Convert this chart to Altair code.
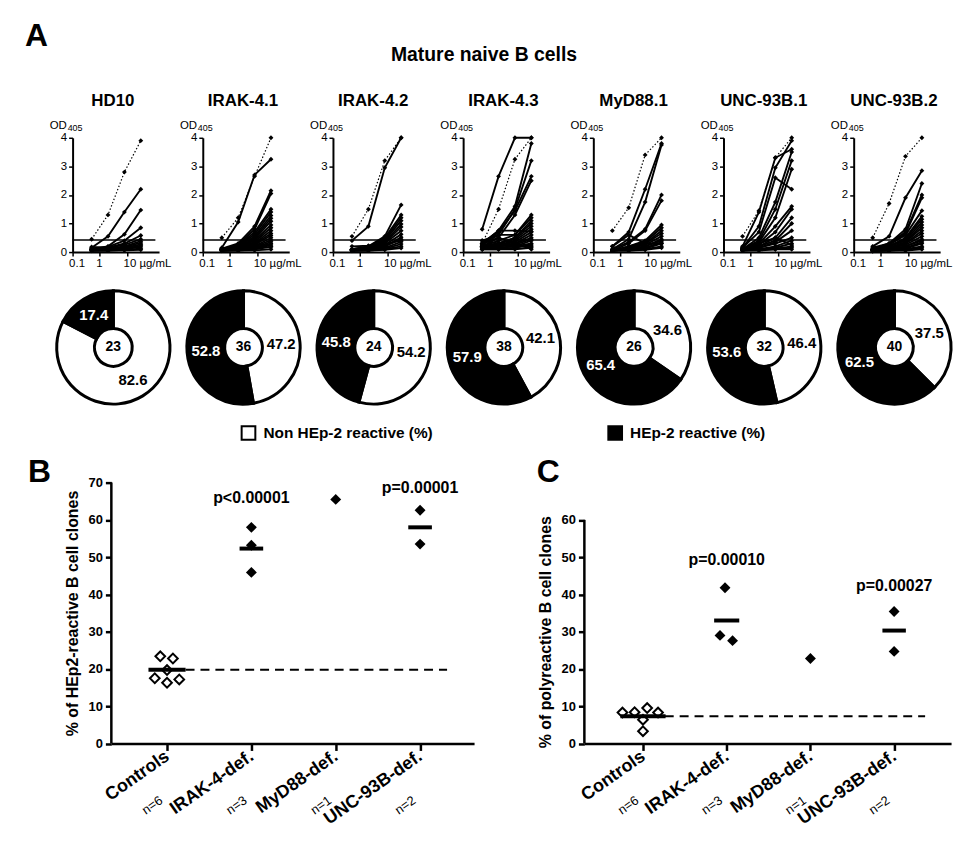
import altair as alt
import pandas as pd

FONT = "Liberation Sans, Arial, Helvetica, sans-serif"

# ---------------- Panel A data ----------------
CONC = [0.5, 2, 8, 32]  # ug/mL
PANELS = ["HD10", "IRAK-4.1", "IRAK-4.2", "IRAK-4.3", "MyD88.1", "UNC-93B.1", "UNC-93B.2"]
CONTROL_CURVES = [
    [0.45, 1.30, 2.80, 3.90],
    [0.50, 1.20, 2.65, 4.00],
    [0.55, 1.50, 3.20, 4.00],
    [0.30, 1.50, 3.25, 4.00],
    [0.75, 1.55, 3.40, 4.00],
    [0.55, 1.45, 3.30, 4.00],
    [0.50, 1.70, 3.35, 4.00],
]
HD10_CURVES = [
    [0.15, 0.55, 1.40, 2.20], [0.12, 0.20, 0.62, 1.47], [0.10, 0.18, 0.40, 0.85],
    [0.10, 0.15, 0.30, 0.58], [0.18, 0.15, 0.25, 0.45], [0.10, 0.12, 0.20, 0.38],
    [0.08, 0.10, 0.18, 0.32], [0.06, 0.08, 0.15, 0.27], [0.10, 0.10, 0.12, 0.22],
    [0.05, 0.06, 0.10, 0.18], [0.05, 0.05, 0.08, 0.12], [0.04, 0.05, 0.06, 0.08],
]
IRAK41_CURVES = [
    [0.15, 1.05, 2.70, 3.25], [0.12, 0.30, 0.90, 2.15], [0.10, 0.25, 0.80, 2.05],
    [0.10, 0.22, 0.70, 1.50], [0.10, 0.20, 0.62, 1.40], [0.10, 0.18, 0.55, 1.28],
    [0.10, 0.15, 0.50, 1.18], [0.10, 0.15, 0.45, 1.08], [0.08, 0.15, 0.40, 0.95],
    [0.08, 0.12, 0.35, 0.85], [0.08, 0.12, 0.30, 0.75], [0.08, 0.10, 0.28, 0.65],
    [0.08, 0.10, 0.25, 0.58], [0.06, 0.10, 0.20, 0.50], [0.06, 0.08, 0.18, 0.42],
    [0.10, 0.10, 0.15, 0.36], [0.05, 0.08, 0.12, 0.30], [0.05, 0.08, 0.10, 0.25],
    [0.05, 0.05, 0.10, 0.18], [0.12, 0.20, 0.30, 0.20], [0.04, 0.05, 0.06, 0.10],
]
IRAK42_CURVES = [
    [0.40, 0.90, 2.95, 4.00], [0.10, 0.20, 0.55, 1.65], [0.10, 0.18, 0.50, 1.30],
    [0.10, 0.15, 0.45, 1.20], [0.10, 0.15, 0.40, 1.10], [0.08, 0.12, 0.35, 0.98],
    [0.08, 0.12, 0.32, 0.88], [0.08, 0.10, 0.30, 0.75], [0.08, 0.10, 0.25, 0.62],
    [0.06, 0.10, 0.20, 0.52], [0.06, 0.10, 0.20, 0.45], [0.05, 0.08, 0.15, 0.36],
    [0.05, 0.06, 0.12, 0.28], [0.05, 0.05, 0.10, 0.20], [0.04, 0.05, 0.08, 0.14],
    [0.20, 0.22, 0.28, 0.40],
]
IRAK43_CURVES = [
    [0.80, 2.65, 4.00, 4.00], [0.30, 0.75, 1.60, 3.80], [0.25, 0.60, 1.50, 3.20],
    [0.25, 0.70, 1.45, 2.65], [0.20, 0.50, 1.30, 2.50], [0.30, 0.75, 0.75, 0.72],
    [0.40, 0.60, 0.60, 1.30], [0.20, 0.40, 0.60, 1.20], [0.20, 0.30, 0.50, 1.10],
    [0.20, 0.30, 0.50, 1.00], [0.20, 0.30, 0.45, 0.90], [0.20, 0.25, 0.40, 0.80],
    [0.20, 0.25, 0.35, 0.70], [0.15, 0.20, 0.30, 0.60], [0.15, 0.20, 0.30, 0.50],
    [0.15, 0.20, 0.25, 0.45], [0.10, 0.15, 0.20, 0.40], [0.10, 0.15, 0.20, 0.30],
    [0.10, 0.10, 0.15, 0.25], [0.40, 0.30, 0.20, 0.20], [0.30, 0.50, 0.30, 0.10],
    [0.10, 0.10, 0.10, 0.15],
]
MYD88_CURVES = [
    [0.20, 0.70, 2.20, 3.80], [0.10, 0.45, 1.75, 3.75], [0.10, 0.35, 0.80, 2.00],
    [0.05, 0.30, 0.75, 1.80], [0.05, 0.20, 0.40, 0.95], [0.05, 0.20, 0.35, 0.85],
    [0.05, 0.15, 0.30, 0.75], [0.05, 0.15, 0.30, 0.65], [0.05, 0.12, 0.25, 0.55],
    [0.05, 0.10, 0.20, 0.45], [0.05, 0.10, 0.20, 0.40], [0.05, 0.10, 0.15, 0.35],
    [0.05, 0.08, 0.12, 0.30], [0.05, 0.05, 0.10, 0.20], [0.05, 0.05, 0.08, 0.15],
    [0.20, 0.60, 0.30, 0.30],
]
UNC1_CURVES = [
    [0.20, 1.40, 3.30, 3.60], [0.15, 0.90, 2.95, 3.90], [0.15, 0.70, 2.60, 2.20],
    [0.10, 0.50, 1.75, 3.50], [0.10, 0.40, 1.50, 3.20], [0.10, 0.35, 1.20, 2.90],
    [0.10, 0.30, 0.90, 1.60], [0.10, 0.25, 0.70, 1.50], [0.10, 0.20, 0.50, 1.20],
    [0.10, 0.20, 0.40, 1.00], [0.10, 0.15, 0.35, 0.75], [0.10, 0.15, 0.30, 0.50],
    [0.08, 0.10, 0.20, 0.40], [0.08, 0.10, 0.15, 0.30], [0.05, 0.10, 0.12, 0.20],
    [0.05, 0.08, 0.10, 0.15], [0.05, 0.05, 0.10, 0.10], [0.10, 0.30, 0.50, 0.25],
]
UNC2_CURVES = [
    [0.20, 0.55, 1.90, 2.85], [0.15, 0.30, 0.80, 2.40], [0.10, 0.30, 0.70, 2.00],
    [0.10, 0.25, 0.65, 1.90], [0.10, 0.25, 0.60, 1.45], [0.10, 0.20, 0.50, 1.25],
    [0.10, 0.20, 0.45, 1.15], [0.10, 0.20, 0.40, 1.05], [0.10, 0.15, 0.35, 0.95],
    [0.10, 0.15, 0.35, 0.85], [0.08, 0.15, 0.30, 0.75], [0.08, 0.12, 0.30, 0.65],
    [0.08, 0.12, 0.25, 0.55], [0.05, 0.10, 0.20, 0.45], [0.05, 0.10, 0.20, 0.40],
    [0.05, 0.10, 0.15, 0.35], [0.05, 0.08, 0.12, 0.30], [0.05, 0.05, 0.10, 0.20],
    [0.05, 0.05, 0.08, 0.15], [0.03, 0.05, 0.05, 0.10],
]
ALL_CURVES = [HD10_CURVES, IRAK41_CURVES, IRAK42_CURVES, IRAK43_CURVES,
              MYD88_CURVES, UNC1_CURVES, UNC2_CURVES]
THRESHOLD = 0.42
THRESHOLD_SPAN = [0.1, 110]

N_CLONES = [23, 36, 24, 38, 26, 32, 40]
NON_REACTIVE = [82.6, 47.2, 54.2, 42.1, 34.6, 46.4, 37.5]
REACTIVE = [17.4, 52.8, 45.8, 57.9, 65.4, 53.6, 62.5]
CAT_NON = "Non HEp-2 reactive (%)"
CAT_REA = "HEp-2 reactive (%)"

# ---------------- Panels B / C data ----------------
GROUPS = ["Controls", "IRAK-4-def.", "MyD88-def.", "UNC-93B-def."]
GROUP_N = ["n=6", "n=3", "n=1", "n=2"]

B_CONTROLS = [23.4, 22.8, 19.7, 17.5, 16.3, 17.2]
B_CONTROLS_JIT = [-0.08, 0.07, 0.0, -0.145, 0.0, 0.145]
B_PATIENT_GROUP = [1, 1, 1, 2, 3, 3]
B_PATIENTS = [58.0, 53.2, 45.9, 65.5, 62.6, 53.5]
B_MEDIAN_GROUP = [0, 1, 3]
B_MEDIANS = [19.8, 52.3, 58.0]
B_MEDIAN_HALF = [0.22, 0.14, 0.14]
B_DASH = [0.22, 3.32]
B_P_GROUP = [1, 3]
B_P_TEXT = ["p<0.00001", "p=0.00001"]
B_P_Y = [65.9, 68.5]

C_CONTROLS = [8.3, 8.4, 9.5, 8.3, 6.4, 3.3]
C_CONTROLS_JIT = [-0.245, -0.10, 0.05, 0.18, 0.0, 0.0]
C_PATIENT_GROUP = [1, 1, 1, 2, 3, 3]
C_PATIENTS = [41.8, 29.0, 27.6, 22.8, 35.4, 24.7]
C_PATIENTS_JIT = [-0.02, -0.08, 0.07, 0.0, 0.0, 0.0]
C_MEDIAN_GROUP = [0, 1, 3]
C_MEDIANS = [7.3, 33.0, 30.3]
C_MEDIAN_HALF = [0.27, 0.15, 0.14]
C_DASH = [0.26, 3.37]
C_P_GROUP = [1, 3]
C_P_TEXT = ["p=0.00010", "p=0.00027"]
C_P_Y = [49.2, 42.3]

# ---------------- layout sizes ----------------
PW, PH, PSP = 87, 115, 44          # small panels
HEADER_H = 70.5
DONUT_ROW_H = 186.5
DONUT_CX, DONUT_CY = 41, 78
BC_H = 262.5


def line_panel(i):
    rows = []
    for k, curve in enumerate(ALL_CURVES[i]):
        for c, v in zip(CONC, curve):
            rows.append({"clone": k, "conc": c, "od": v})
    df = pd.DataFrame(rows)
    ctrl = pd.DataFrame({"conc": CONC, "od": CONTROL_CURVES[i]})
    thr = pd.DataFrame({"conc": [THRESHOLD_SPAN[0]], "conc2": [THRESHOLD_SPAN[1]], "od": [THRESHOLD]})
    ttl = pd.DataFrame({"name": [PANELS[i]]})

    x = alt.X("conc:Q", scale=alt.Scale(type="log", domain=[0.1, 150], nice=False),
              axis=alt.Axis(values=[0.1, 1, 10], title=None,
                            labelExpr="datum.value >= 10 ? '10 \u00b5g/mL' : (datum.value < 0.5 ? '0.1' : '1')",
                            labelAlign="left", labelOffset=-4, labelFontSize=11.5, labelPadding=2,
                            labelOverlap=False, labelBound=False,
                            tickSize=4, tickWidth=1.5, domainWidth=2))
    y = alt.Y("od:Q", scale=alt.Scale(domain=[0, 4], nice=False),
              axis=alt.Axis(values=[0, 1, 2, 3, 4], title=None,
                            labelFontSize=11.5, labelPadding=2, labelOverlap=False,
                            tickSize=4, tickWidth=1.5, domainWidth=2))
    pt = alt.OverlayMarkDef(shape="diamond", filled=True, size=24, color="black")
    curves = alt.Chart(df).mark_line(color="black", strokeWidth=1.9, point=pt).encode(
        x=x, y=y, detail="clone:N")
    control = alt.Chart(ctrl).mark_line(color="black", strokeWidth=1.2, strokeDash=[1.5, 2],
                                        point=pt).encode(x=x, y=y)
    thr_rule = alt.Chart(thr).mark_rule(color="black", strokeWidth=1.6).encode(
        x=x, x2="conc2:Q", y=y)
    title = alt.Chart(ttl).mark_text(fontSize=17, fontWeight="bold", font=FONT, color="black",
                                     baseline="middle").encode(
        text="name:N", x=alt.value(PW / 2 - 3), y=alt.value(-37))
    od = alt.Chart(pd.DataFrame({"t": ["OD"]})).mark_text(
        fontSize=11.5, font=FONT, color="black", align="left", baseline="middle").encode(
        text="t:N", x=alt.value(-23), y=alt.value(-12))
    sub = alt.Chart(pd.DataFrame({"t": ["405"]})).mark_text(
        fontSize=9, font=FONT, color="black", align="left", baseline="middle").encode(
        text="t:N", x=alt.value(-5), y=alt.value(-10))
    return alt.layer(curves, thr_rule, control, title, od, sub).properties(width=PW, height=PH)


def donut(i):
    d = pd.DataFrame({"cat": [CAT_NON, CAT_REA], "pct": [NON_REACTIVE[i], REACTIVE[i]], "ord": [0, 1]})
    base = alt.Chart(d).encode(theta=alt.Theta("pct:Q", stack=True), order=alt.Order("ord:Q"),
                               x=alt.value(DONUT_CX), y=alt.value(DONUT_CY))
    arc = base.mark_arc(innerRadius=19, outerRadius=57, stroke="black", strokeWidth=3).encode(
        color=alt.Color("cat:N", scale=alt.Scale(domain=[CAT_NON, CAT_REA], range=["white", "black"]),
                        legend=alt.Legend(title=None, orient="none", legendX=169, legendY=406,
                                          direction="horizontal", symbolType="square", symbolSize=190,
                                          symbolStrokeColor="black", symbolStrokeWidth=2,
                                          labelFont=FONT, labelFontSize=15.5, labelFontWeight="bold",
                                          labelColor="black", labelLimit=0, labelOffset=7,
                                          columnPadding=172)))
    lab = base.mark_text(radius=38, fontSize=15, fontWeight="bold", font=FONT).encode(
        text=alt.Text("pct:Q", format=".1f"),
        color=alt.condition(alt.datum.ord == 1, alt.value("white"), alt.value("black")))
    center = alt.Chart(pd.DataFrame({"n": [N_CLONES[i]]})).mark_text(
        fontSize=14, fontWeight="bold", font=FONT, color="black").encode(
        text="n:Q", x=alt.value(DONUT_CX), y=alt.value(DONUT_CY))
    return alt.layer(arc, lab, center).properties(width=PW, height=DONUT_ROW_H)


def scatter_panel(controls, ctrl_jit, pat_group, patients, pat_jit, med_group, medians, med_half,
                  dash, p_group, p_text, p_y, title, width, ymax_axis):
    ctrl_df = pd.DataFrame({"pos": [0 + j for j in ctrl_jit], "val": controls})
    pat_df = pd.DataFrame({"pos": [g + j for g, j in zip(pat_group, pat_jit)], "val": patients})
    med_df = pd.DataFrame({"pos": [g - h for g, h in zip(med_group, med_half)],
                           "x2": [g + h for g, h in zip(med_group, med_half)], "val": medians})
    dash_df = pd.DataFrame({"pos": [dash[0]], "x2": [dash[1]], "val": [medians[0]]})
    p_df = pd.DataFrame({"pos": p_group, "val": p_y, "t": p_text})
    n_df = pd.DataFrame({"pos": list(range(len(GROUP_N))), "t": GROUP_N})
    yl_df = pd.DataFrame({"val": [0], "v1": [ymax_axis]})

    lo = -0.66 if width < 367 else -0.70
    hi = 3.64 if width < 367 else 3.68
    label_expr = "[" + ",".join("'" + g + "'" for g in GROUPS) + "][datum.value]"
    x = alt.X("pos:Q", scale=alt.Scale(domain=[lo, hi], nice=False, zero=False),
              axis=alt.Axis(values=[0, 1, 2, 3], labelExpr=label_expr, title=None,
                            labelAngle=-35, labelAlign="right", labelBaseline="middle",
                            labelFontSize=18, labelFontWeight="bold", labelPadding=4,
                            labelOverlap=False, labelBound=False,
                            tickSize=7, tickWidth=2.5, domainWidth=2.5))
    yvals = list(range(0, ymax_axis + 1, 10))
    y = alt.Y("val:Q", scale=alt.Scale(domain=[0, 70], nice=False),
              axis=alt.Axis(values=yvals, title=title, titleFontSize=16, titleFontWeight="bold",
                            titleY=BC_H - ymax_axis / 70 * BC_H / 2,
                            titlePadding=8, labelFontSize=13, labelFontWeight="bold",
                            labelPadding=3, labelOverlap=False, tickSize=6, tickWidth=2.5,
                            domain=False))
    c_open = alt.Chart(ctrl_df).mark_point(shape="diamond", filled=False, color="black",
                                           strokeWidth=2, size=95, opacity=1).encode(x=x, y=y)
    dashed = alt.Chart(dash_df).mark_rule(color="black", strokeWidth=2, strokeDash=[9, 6]).encode(
        x=x, x2="x2:Q", y=y)
    c_fill = alt.Chart(pat_df).mark_point(shape="diamond", filled=True, color="black",
                                          size=120, opacity=1).encode(x=x, y=y)
    meds = alt.Chart(med_df).mark_rule(color="black", strokeWidth=4).encode(
        x=x, x2="x2:Q", y=y)
    ptxt = alt.Chart(p_df).mark_text(fontSize=16, fontWeight="bold", font=FONT, color="black").encode(
        x=x, y=y, text="t:N")
    ntxt = alt.Chart(n_df).mark_text(fontSize=13, angle=325, font=FONT, dx=-18, color="black").encode(
        x=x, y=alt.value(BC_H + 52), text="t:N")
    yline = alt.Chart(yl_df).mark_rule(color="black", strokeWidth=2.5).encode(
        x=alt.value(0), y=y, y2="v1:Q")
    return alt.layer(c_open, dashed, c_fill, meds, ptxt, ntxt, yline).properties(
        width=width, height=BC_H)


# ---------------- assemble ----------------
header = alt.layer(
    alt.Chart(pd.DataFrame({"t": ["A"]})).mark_text(fontSize=32, fontWeight="bold", align="left",
                                                    baseline="top", font=FONT, color="black").encode(
        text="t:N", x=alt.value(-48), y=alt.value(0)),
    alt.Chart(pd.DataFrame({"t": ["Mature naive B cells"]})).mark_text(
        fontSize=19.5, fontWeight="bold", baseline="middle", font=FONT, color="black").encode(
        text="t:N", x=alt.value(414), y=alt.value(34)),
).properties(width=PW, height=HEADER_H)

row_lines = alt.hconcat(*[line_panel(i) for i in range(7)], spacing=PSP, bounds="flush")
row_donuts = alt.hconcat(*[donut(i) for i in range(7)], spacing=PSP, bounds="flush")

spacer_b = alt.Chart(pd.DataFrame({"t": ["B"]})).mark_text(
    fontSize=32, fontWeight="bold", baseline="middle", align="left", font=FONT, color="black").encode(
    text="t:N", x=alt.value(-45), y=alt.value(-11)).properties(width=39, height=BC_H)
spacer_c = alt.Chart(pd.DataFrame({"t": ["C"]})).mark_text(
    fontSize=32, fontWeight="bold", baseline="middle", align="left", font=FONT, color="black").encode(
    text="t:N", x=alt.value(63), y=alt.value(-11)).properties(width=111, height=BC_H)

panel_b = scatter_panel(B_CONTROLS, B_CONTROLS_JIT, B_PATIENT_GROUP, B_PATIENTS,
                        [0.0] * len(B_PATIENTS), B_MEDIAN_GROUP, B_MEDIANS, B_MEDIAN_HALF,
                        B_DASH, B_P_GROUP, B_P_TEXT, B_P_Y,
                        "% of HEp2-reactive B cell clones", 365, 70)
panel_c = scatter_panel(C_CONTROLS, C_CONTROLS_JIT, C_PATIENT_GROUP, C_PATIENTS,
                        C_PATIENTS_JIT, C_MEDIAN_GROUP, C_MEDIANS, C_MEDIAN_HALF,
                        C_DASH, C_P_GROUP, C_P_TEXT, C_P_Y,
                        "% of polyreactive B cell clones", 369, 60)
row_bc = alt.hconcat(spacer_b, panel_b, spacer_c, panel_c, spacing=0, bounds="flush")

chart = alt.vconcat(header, row_lines, row_donuts, row_bc, spacing=0, bounds="full").properties(
    padding={"left": 17, "top": 10, "right": 5, "bottom": 5}
).resolve_scale(color="shared").configure(font=FONT).configure_view(stroke=None).configure_axis(
    grid=False, domainColor="black", tickColor="black", labelColor="black", titleColor="black",
    labelFont=FONT, titleFont=FONT)

chart.save("out.html", embed_options={"renderer": "svg", "actions": False})
